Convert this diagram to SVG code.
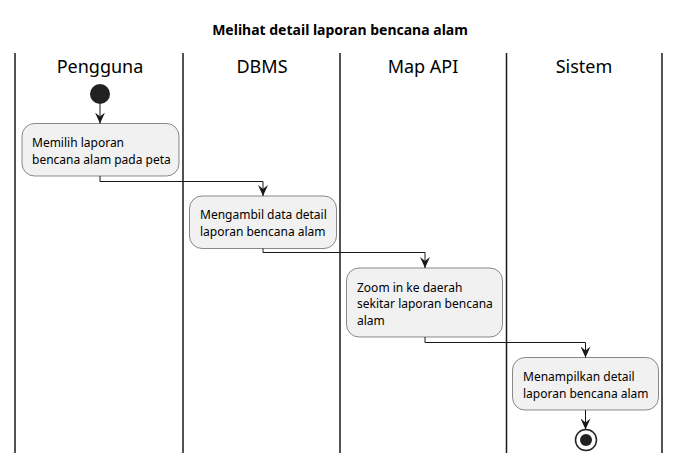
<svg xmlns="http://www.w3.org/2000/svg" width="680" height="463" viewBox="0 0 680 463">
<style>
  .lane { stroke: #181818; stroke-width: 1.5; }
  .hdr { font-family: "Noto Sans", "DejaVu Sans", sans-serif; font-size: 18px; fill: #000; text-anchor: middle; }
  .title { font-family: "Noto Sans", "DejaVu Sans", sans-serif; font-size: 14px; font-weight: bold; fill: #000; text-anchor: middle; }
  .box { fill: #F1F1F1; stroke: #181818; stroke-width: 0.5; }
  .txt { font-family: "Noto Sans", "DejaVu Sans", sans-serif; font-size: 12px; fill: #000; }
  .conn { fill: none; stroke: #181818; stroke-width: 1; }
</style>
<defs>
  <marker id="arr" markerUnits="userSpaceOnUse" markerWidth="12" markerHeight="12" viewBox="0 0 12 12" refX="11" refY="6" orient="auto">
    <path d="M0,1 L11,6 L0,11 L4,6 Z" fill="#181818"/>
  </marker>
</defs>
<rect width="680" height="463" fill="#fff"/>
<text class="title" x="340" y="35">Melihat detail laporan bencana alam</text>
<g id="lanes">
  <line class="lane" x1="15" y1="53" x2="15" y2="453"/>
  <line class="lane" x1="183" y1="53" x2="183" y2="453"/>
  <line class="lane" x1="340" y1="53" x2="340" y2="453"/>
  <line class="lane" x1="506.5" y1="53" x2="506.5" y2="453"/>
  <line class="lane" x1="662" y1="53" x2="662" y2="453"/>
  <text class="hdr" x="100" y="73">Pengguna</text>
  <text class="hdr" x="262" y="73">DBMS</text>
  <text class="hdr" x="423" y="73">Map API</text>
  <text class="hdr" x="584" y="73">Sistem</text>
</g>
<g id="start">
  <circle cx="100" cy="94" r="10" fill="#222"/>
</g>
<g id="n1">
  <rect class="box" x="22" y="123.5" width="157" height="52.5" rx="12.5"/>
  <text class="txt" x="32" y="147">Memilih laporan</text>
  <text class="txt" x="32" y="163.5">bencana alam pada peta</text>
</g>
<g id="n2">
  <rect class="box" x="189.5" y="196" width="147" height="52.5" rx="12.5"/>
  <text class="txt" x="200" y="219">Mengambil data detail</text>
  <text class="txt" x="200" y="235.5">laporan bencana alam</text>
</g>
<g id="n3">
  <rect class="box" x="346.5" y="268" width="156" height="69" rx="12.5"/>
  <text class="txt" x="357" y="291.5">Zoom in ke daerah</text>
  <text class="txt" x="357" y="308">sekitar laporan bencana</text>
  <text class="txt" x="357" y="324.5">alam</text>
</g>
<g id="n4">
  <rect class="box" x="512.5" y="357.5" width="146" height="52.5" rx="12.5"/>
  <text class="txt" x="523" y="381">Menampilkan detail</text>
  <text class="txt" x="523" y="397.5">laporan bencana alam</text>
</g>
<g id="end">
  <circle cx="586" cy="440" r="10.5" fill="none" stroke="#222" stroke-width="1.5"/>
  <circle cx="586" cy="440" r="6" fill="#222"/>
</g>
<g id="connectors">
  <path class="conn" d="M100,104 L100,123.5" marker-end="url(#arr)"/>
  <path class="conn" d="M100,176 L100,181.5 L263,181.5 L263,196" marker-end="url(#arr)"/>
  <path class="conn" d="M263,248.5 L263,252.5 L425,252.5 L425,268" marker-end="url(#arr)"/>
  <path class="conn" d="M425,337 L425,342.5 L585.5,342.5 L585.5,357.5" marker-end="url(#arr)"/>
  <path class="conn" d="M585.5,410 L585.5,429.5" marker-end="url(#arr)"/>
</g>
</svg>
